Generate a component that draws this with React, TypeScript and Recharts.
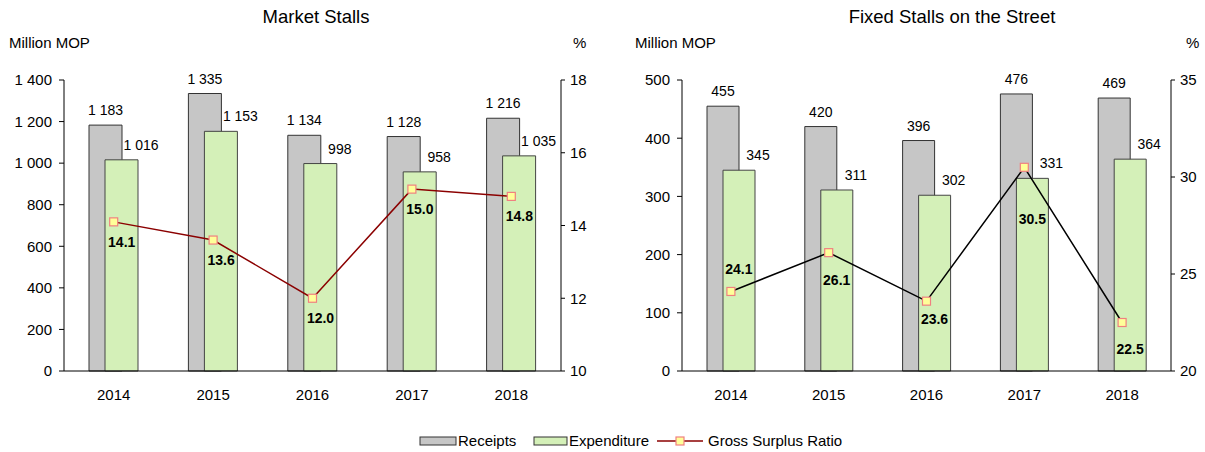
import {
  ComposedChart,
  Bar,
  Line,
  XAxis,
  YAxis,
  LabelList,
} from "recharts";

const years = ["2014", "2015", "2016", "2017", "2018"];

const marketReceipts = [1183, 1335, 1134, 1128, 1216];
const marketExpenditure = [1016, 1153, 998, 958, 1035];
const marketRatio = [14.1, 13.6, 12.0, 15.0, 14.8];

const streetReceipts = [455, 420, 396, 476, 469];
const streetExpenditure = [345, 311, 302, 331, 364];
const streetRatio = [24.1, 26.1, 23.6, 30.5, 22.5];

const marketMoneyTicks = [0, 200, 400, 600, 800, 1000, 1200, 1400];
const marketRatioTicks = [10, 12, 14, 16, 18];
const streetMoneyTicks = [0, 100, 200, 300, 400, 500];
const streetRatioTicks = [20, 25, 30, 35];

// label placement for the ratio line (vertical offset from the marker)
const marketRatioDy = [20, 20, 20, 20, 20];
const streetRatioDy = [-22, 27, 18, 52, 26];

const FONT = '"Liberation Sans", Arial, Helvetica, sans-serif';

const fmt = (n: number) => String(n).replace(/\B(?=(\d{3})+(?!\d))/g, " ");

const marketData = years.map((y, i) => ({
  year: y,
  receipts: marketReceipts[i],
  expenditure: marketExpenditure[i],
  ratio: marketRatio[i],
}));

const streetData = years.map((y, i) => ({
  year: y,
  receipts: streetReceipts[i],
  expenditure: streetExpenditure[i],
  ratio: streetRatio[i],
}));

const tickStyle = { fontSize: 15, fill: "#000", fontFamily: FONT };

function ReceiptLabel(props: any) {
  const { x, y, width, value } = props;
  return (
    <text
      x={x + width / 2}
      y={y - 10}
      textAnchor="middle"
      fontSize={14}
      fontFamily={FONT}
      fill="#000"
    >
      {fmt(value)}
    </text>
  );
}

function ExpenditureLabel(props: any) {
  const { x, y, width, value } = props;
  return (
    <text
      x={x + width + 3}
      y={y - 10}
      textAnchor="middle"
      fontSize={14}
      fontFamily={FONT}
      fill="#000"
    >
      {fmt(value)}
    </text>
  );
}

function makeRatioLabel(dys: number[]) {
  return function RatioLabel(props: any) {
    const { x, y, value, index } = props;
    return (
      <text
        x={x + 8}
        y={y + dys[index] + 5}
        textAnchor="middle"
        fontSize={14}
        fontWeight="bold"
        fontFamily={FONT}
        fill="#000"
      >
        {Number(value).toFixed(1)}
      </text>
    );
  };
}

function SquareDot(props: any) {
  const { cx, cy } = props;
  if (cx == null || cy == null) return null;
  return (
    <rect
      x={cx - 4}
      y={cy - 4}
      width={8}
      height={8}
      fill="#FFFF99"
      stroke="#F08080"
      strokeWidth={1.2}
    />
  );
}

interface PanelProps {
  data: any[];
  width: number;
  leftWidth: number;
  rightWidth: number;
  barSize: number;
  moneyTicks: number[];
  ratioTicks: number[];
  lineColor: string;
  dys: number[];
}

function Panel({ data, width, leftWidth, rightWidth, barSize, moneyTicks, ratioTicks, lineColor, dys }: PanelProps) {
  const moneyMax = moneyTicks[moneyTicks.length - 1];
  const ratioMin = ratioTicks[0];
  const ratioMax = ratioTicks[ratioTicks.length - 1];
  return (
    <ComposedChart
      width={width}
      height={410}
      data={data}
      margin={{ top: 80, right: 0, bottom: 0, left: 0 }}
      barGap={-Math.round(barSize / 2)}
    >
      <XAxis
        dataKey="year"
        height={39}
        axisLine={{ stroke: "#000" }}
        tickLine={false}
        tickMargin={12}
        tick={tickStyle}
      />
      <YAxis
        yAxisId="money"
        width={leftWidth}
        domain={[0, moneyMax]}
        ticks={moneyTicks}
        tickFormatter={fmt}
        axisLine={{ stroke: "#000" }}
        tickLine={{ stroke: "#000" }}
        tickSize={5}
        tickMargin={7}
        tick={tickStyle}
        interval={0}
      />
      <YAxis
        yAxisId="ratio"
        orientation="right"
        width={rightWidth}
        domain={[ratioMin, ratioMax]}
        ticks={ratioTicks}
        axisLine={{ stroke: "#000" }}
        tickLine={{ stroke: "#000" }}
        tickSize={4}
        tickMargin={5}
        tick={tickStyle}
        interval={0}
      />
      <Bar
        yAxisId="money"
        dataKey="receipts"
        barSize={barSize}
        fill="#C6C6C6"
        stroke="#333"
        strokeWidth={1}
        isAnimationActive={false}
      >
        <LabelList dataKey="receipts" content={ReceiptLabel} />
      </Bar>
      <Bar
        yAxisId="money"
        dataKey="expenditure"
        barSize={barSize}
        fill="#D4F0B8"
        stroke="#444"
        strokeWidth={1}
        isAnimationActive={false}
      >
        <LabelList dataKey="expenditure" content={ExpenditureLabel} />
      </Bar>
      <Line
        yAxisId="ratio"
        dataKey="ratio"
        stroke={lineColor}
        strokeWidth={1.5}
        dot={<SquareDot />}
        activeDot={false}
        isAnimationActive={false}
      >
        <LabelList dataKey="ratio" content={makeRatioLabel(dys)} />
      </Line>
    </ComposedChart>
  );
}

const textStyle = { position: "absolute" as const, fontFamily: FONT, color: "#000", whiteSpace: "nowrap" as const };

export default function App() {
  return (
    <div style={{ position: "absolute", left: 0, top: 0, width: 1205, height: 452, background: "#fff" }}>
      <div style={{ position: "absolute", left: 0, top: 0 }}>
        <Panel
          data={marketData}
          width={600}
          leftWidth={64}
          rightWidth={39}
          barSize={33}
          moneyTicks={marketMoneyTicks}
          ratioTicks={marketRatioTicks}
          lineColor="#8B0000"
          dys={marketRatioDy}
        />
      </div>
      <div style={{ position: "absolute", left: 600, top: 0 }}>
        <Panel
          data={streetData}
          width={605}
          leftWidth={82}
          rightWidth={34}
          barSize={32}
          moneyTicks={streetMoneyTicks}
          ratioTicks={streetRatioTicks}
          lineColor="#000"
          dys={streetRatioDy}
        />
      </div>

      <div style={{ ...textStyle, left: 216, width: 200, top: 6, textAlign: "center", fontSize: 18.5 }}>Market Stalls</div>
      <div style={{ ...textStyle, left: 9, top: 34, fontSize: 15 }}>Million MOP</div>
      <div style={{ ...textStyle, left: 573, top: 34, fontSize: 15 }}>%</div>

      <div style={{ ...textStyle, left: 802, width: 300, top: 6, textAlign: "center", fontSize: 18.5 }}>
        Fixed Stalls on the Street
      </div>
      <div style={{ ...textStyle, left: 635, top: 34, fontSize: 15 }}>Million MOP</div>
      <div style={{ ...textStyle, left: 1186, top: 34, fontSize: 15 }}>%</div>

      <svg style={{ position: "absolute", left: 0, top: 430 }} width={1205} height={22}>
        <g fontFamily={FONT} fontSize={15} fill="#000">
          <rect x={420} y={7} width={36} height={8} fill="#C6C6C6" stroke="#333" />
          <text x={458} y={16}>Receipts</text>
          <rect x={534} y={7} width={33} height={8} fill="#D4F0B8" stroke="#333" />
          <text x={569} y={16}>Expenditure</text>
          <line x1={657} x2={703} y1={11} y2={11} stroke="#8B0000" strokeWidth={1.5} />
          <rect x={676} y={7} width={8} height={8} fill="#FFFF99" stroke="#F08080" strokeWidth={1.2} />
          <text x={708} y={16}>Gross Surplus Ratio</text>
        </g>
      </svg>
    </div>
  );
}
